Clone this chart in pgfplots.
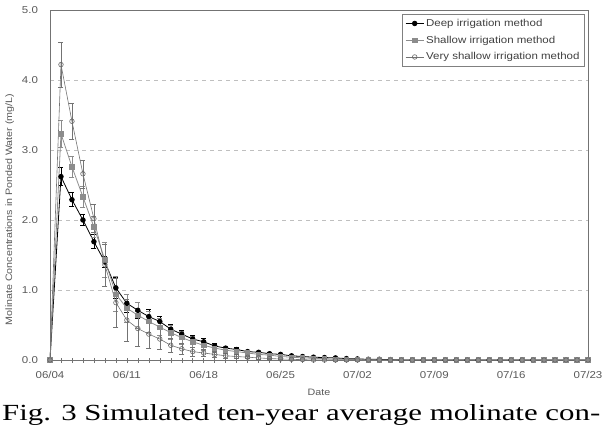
\documentclass[border=0pt]{standalone}
\usepackage{pgfplots}
\usepackage{pgfplotstable}
\pgfplotsset{compat=1.18}
\usepackage{fontspec}
\setmainfont[FakeStretch=1.15]{Liberation Sans}
\newfontfamily\capfont{Liberation Serif}
\pgfplotstableread{
d y e
0 0 0
1 2.62 0.13
2 2.29 0.10
3 2.00 0.08
4 1.69 0.10
5 1.40 0.08
6 1.03 0.15
7 0.81 0.13
8 0.71 0.12
9 0.62 0.10
10 0.55 0.08
11 0.44 0.07
12 0.37 0.06
13 0.30 0.05
14 0.26 0.05
15 0.20 0.04
16 0.17 0.03
17 0.15 0.03
18 0.12 0.02
19 0.11 0.02
20 0.09 0.02
21 0.08 0.01
22 0.06 0.01
23 0.05 0.01
24 0.04 0.01
25 0.035 0.01
26 0.03 0
27 0.02 0
28 0.015 0
29 0.01 0
30 0.01 0
31 0.005 0
32 0 0
33 0 0
34 0 0
35 0 0
36 0 0
37 0 0
38 0 0
39 0 0
40 0 0
41 0 0
42 0 0
43 0 0
44 0 0
45 0 0
46 0 0
47 0 0
48 0 0
49 0 0
}\deep
\pgfplotstableread{
d y e
0 0 0
1 3.23 0.19
2 2.76 0.15
3 2.33 0.15
4 1.90 0.15
5 1.43 0.25
6 0.94 0.25
7 0.74 0.20
8 0.64 0.18
9 0.55 0.15
10 0.47 0.12
11 0.39 0.10
12 0.32 0.09
13 0.26 0.08
14 0.21 0.07
15 0.17 0.06
16 0.14 0.05
17 0.12 0.04
18 0.10 0.03
19 0.08 0.03
20 0.07 0.02
21 0.05 0.02
22 0.04 0.01
23 0.03 0.01
24 0.025 0.01
25 0.02 0
26 0.01 0
27 0.01 0
28 0.005 0
29 0 0
30 0 0
31 0 0
32 0 0
33 0 0
34 0 0
35 0 0
36 0 0
37 0 0
38 0 0
39 0 0
40 0 0
41 0 0
42 0 0
43 0 0
44 0 0
45 0 0
46 0 0
47 0 0
48 0 0
49 0 0
}\shallow
\pgfplotstableread{
d y e
0 0 0
1 4.22 0.32
2 3.41 0.26
3 2.66 0.20
4 2.02 0.20
5 1.36 0.30
6 0.82 0.35
7 0.57 0.30
8 0.45 0.25
9 0.37 0.20
10 0.30 0.15
11 0.21 0.10
12 0.16 0.08
13 0.12 0.06
14 0.10 0.05
15 0.08 0.04
16 0.06 0.03
17 0.05 0.03
18 0.04 0.02
19 0.03 0.02
20 0.02 0.01
21 0.015 0.01
22 0.01 0
23 0.005 0
24 0 0
25 0 0
26 0 0
27 0 0
28 0 0
29 0 0
30 0 0
31 0 0
32 0 0
33 0 0
34 0 0
35 0 0
36 0 0
37 0 0
38 0 0
39 0 0
40 0 0
41 0 0
42 0 0
43 0 0
44 0 0
45 0 0
46 0 0
47 0 0
48 0 0
49 0 0
}\vshallow
\begin{document}
\begin{tikzpicture}[x=1pt,y=1pt]
\useasboundingbox (-50,-66) rectangle (555,360);
\begin{axis}[
  at={(0,0)}, anchor=south west,
  scale only axis, width=538pt, height=350pt,
  xmin=0, xmax=49, ymin=0, ymax=5,
  xtick={0,7,...,49},
  xticklabels={06/04,06/11,06/18,06/25,07/02,07/09,07/16,07/23},
  minor x tick num=6,
  ytick={0,1,...,5},
  yticklabel style={xshift=-6pt, /pgf/number format/.cd, fixed, fixed zerofill, precision=1},
  /pgf/number format/assume math mode=true,
  tick label style={font=\fontsize{10}{12}\selectfont, text=black!65},
  xticklabel style={yshift=-5pt},
  xtick pos=bottom, ytick pos=left,
  tick align=center,
  major tick length=5pt, minor tick length=5pt,
  ytick style={draw=none},
  tick style={black!55, line width=0.5pt},
  ymajorgrids, grid style={black!25, dash pattern=on 4pt off 4pt, line width=0.6pt},
  axis line style={black!55, line width=0.9pt},
  xlabel={Date}, ylabel={Molinate Concentrations in Ponded Water (mg/L)},
  label style={font=\fontsize{9.3}{11}\selectfont, text=black!65},
  xlabel style={at={(axis description cs:0.5,-0.092)}, anchor=center},
  ylabel style={at={(axis description cs:-0.075,0.43)}, anchor=center},
  legend style={at={(0.994,0.989)}, anchor=north east, draw=black!50, line width=0.5pt,
    font=\fontsize{10}{12}\selectfont, text=black!75, row sep=4pt, inner sep=3pt},
  legend cell align=left,
  legend image code/.code={\draw[#1] (0pt,0pt) -- (18pt,0pt); \draw[#1, only marks] plot coordinates {(9pt,0pt)};},
  error bars/y dir=both, error bars/y explicit,
  error bars/error bar style={line width=0.5pt},
  error bars/error mark options={rotate=90, mark size=2.5pt, line width=0.5pt},
]
\addplot[black, line width=0.8pt, mark=*, mark size=2.3pt, mark options={fill=black},
  error bars/error bar style={black}]
  table[x=d, y=y, y error=e] {\deep};
\addlegendentry{Deep irrigation method}
\addplot[black!45, line width=0.8pt, mark=square*, mark size=2.2pt, mark options={fill=black!45, draw=black!45},
  error bars/error bar style={black!45}]
  table[x=d, y=y, y error=e] {\shallow};
\addlegendentry{Shallow irrigation method}
\addplot[black!55, line width=0.6pt, mark=o, mark size=2.3pt, mark options={fill=white, draw=black!60},
  error bars/error bar style={black!55}]
  table[x=d, y=y, y error=e] {\vshallow};
\addlegendentry{Very shallow irrigation method}
\end{axis}
\node[anchor=base west, inner sep=0pt] at (-48,-60) {\resizebox{598pt}{16pt}{\capfont Fig. 3 Simulated ten-year average molinate con-}};
\end{tikzpicture}
\end{document}
